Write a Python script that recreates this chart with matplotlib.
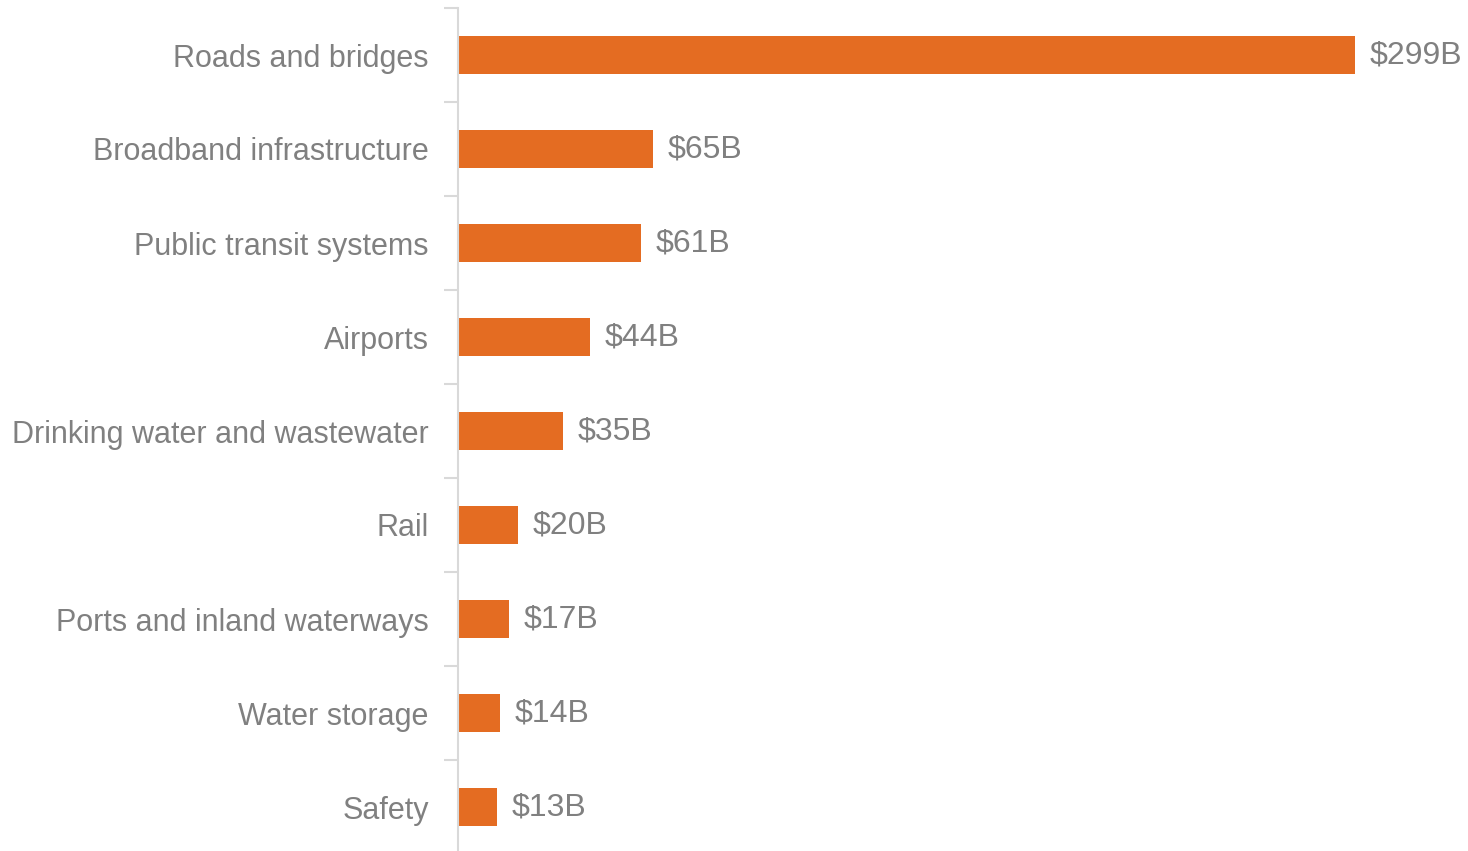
import numpy as np
import matplotlib.pyplot as plt

categories = ['Roads and bridges', 'Broadband infrastructure', 'Public transit systems',
              'Airports', 'Drinking water and wastewater', 'Rail',
              'Ports and inland waterways', 'Water storage', 'Safety']
values = [299, 65, 61, 44, 35, 20, 17, 14, 13]
value_labels = ['$299B', '$65B', '$61B', '$44B', '$35B', '$20B', '$17B', '$14B', '$13B']

barColor = '#E46C22'
textColor = '#808080'

plt.rcParams['font.family'] = ['Liberation Sans', 'DejaVu Sans']

W, H = 1468, 851
fig = plt.figure(figsize=(W / 100, H / 100), dpi=100)
ax = fig.add_axes([458 / W, -3 / H, 1 - 458 / W, (851 - 8 + 3) / H])

pos = np.arange(len(categories))
ax.barh(pos, values, height=0.4, color=barColor)
ax.set_ylim(len(categories) - 0.5, -0.5)
ax.set_xlim(0, (W - 458) / 3.0)

for p, v, lab in zip(pos, values, value_labels):
    ax.text(v + 5, p, lab, va='center', ha='left', fontsize=23, color=textColor)

ax.set_yticks(pos)
ax.set_yticklabels(categories, fontsize=22, color=textColor)
ax.set_yticks(np.arange(len(categories) + 1) - 0.5, minor=True)
ax.tick_params(axis='y', which='major', length=0, pad=21)
ax.tick_params(axis='y', which='minor', length=10, width=1.5, color='#D9D9D9')
ax.set_xticks([])
for s in ['top', 'right', 'bottom']:
    ax.spines[s].set_visible(False)
ax.spines['left'].set_color('#D9D9D9')
ax.spines['left'].set_linewidth(1.5)

fig.savefig('out.png', dpi=100)
